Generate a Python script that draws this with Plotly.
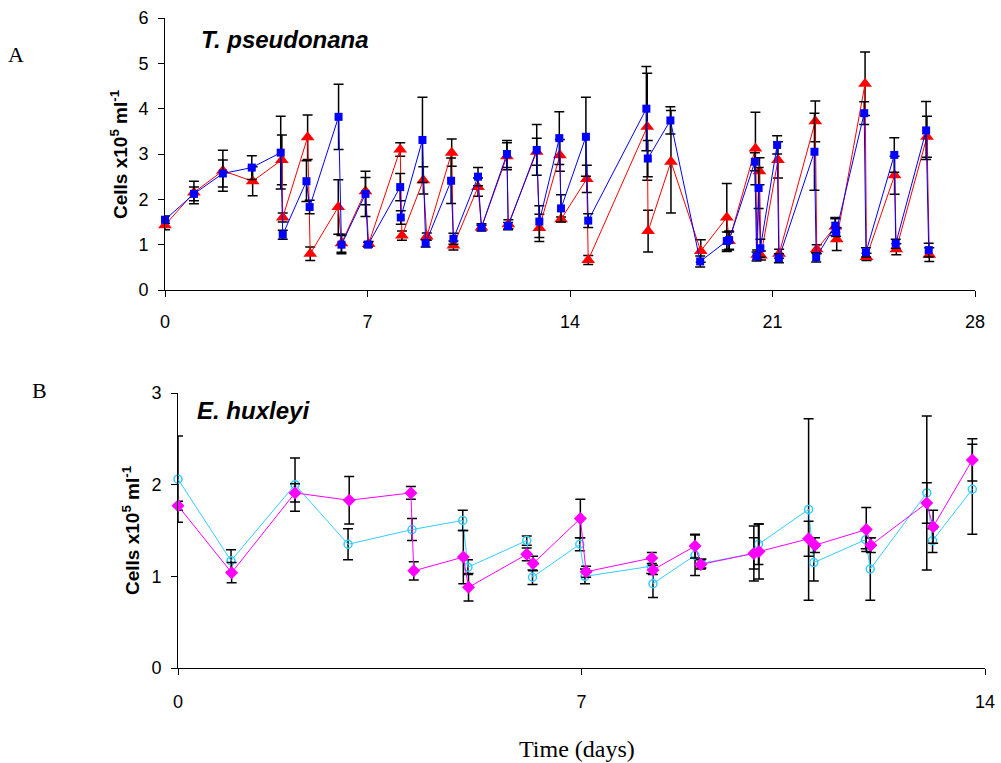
import plotly.graph_objects as go

# ---------------- Panel A : T. pseudonana ----------------
tp_red_day = [0, 1, 2, 3.03, 4.04, 4.07, 4.93, 5.02, 5.99, 6.1, 6.93, 7.04, 8.13, 8.19, 8.93, 9.05,
              9.91, 9.97, 10.82, 10.94, 11.82, 11.87, 12.85, 12.94, 13.65, 13.69, 14.58, 14.63,
              16.67, 16.7, 17.49, 18.52, 19.42, 19.5, 20.41, 20.47, 20.55, 20.6, 21.19, 21.23,
              22.48, 22.53, 23.17, 23.22, 24.2, 24.25, 25.22, 25.28, 26.34, 26.42]
tp_red_val = [1.43, 2.15, 2.63, 2.40, 2.87, 1.60, 3.37, 0.80, 1.83, 1.03, 2.18, 1.02, 3.10, 1.20, 2.42, 1.18,
              3.03, 0.98, 2.27, 1.38, 2.95, 1.45, 3.05, 1.37, 2.97, 1.56, 2.45, 0.66,
              3.60, 1.30, 2.83, 0.86, 1.60, 1.08, 3.12, 0.78, 2.62, 0.76, 2.87, 0.80,
              3.72, 0.90, 1.40, 1.12, 4.55, 0.73, 2.53, 0.90, 3.38, 0.78]
tp_red_err = [0.10, 0.25, 0.45, 0.32, 0.55, 0.10, 0.49, 0.15, 0.60, 0.20, 0.30, 0.05, 0.15, 0.10, 0.30, 0.08,
              0.30, 0.10, 0.20, 0.05, 0.30, 0.10, 0.30, 0.30, 0.35, 0.05, 0.30, 0.10,
              1.18, 0.46, 1.13, 0.25, 0.75, 0.20, 0.80, 0.10, 0.30, 0.10, 0.40, 0.10,
              0.45, 0.10, 0.20, 0.25, 0.70, 0.08, 0.42, 0.12, 0.45, 0.15]

tp_blue_day = [0, 1, 2, 3, 4.0, 4.07, 4.89, 5.0, 6.0, 6.1, 6.93, 7.02, 8.13, 8.15, 8.9, 9.01,
               9.89, 9.97, 10.82, 10.94, 11.82, 11.86, 12.85, 12.94, 13.63, 13.69, 14.55, 14.63,
               16.64, 16.69, 17.47, 18.5, 19.42, 19.5, 20.39, 20.45, 20.52, 20.58, 21.16, 21.22,
               22.45, 22.51, 23.17, 23.2, 24.17, 24.23, 25.21, 25.26, 26.31, 26.4]
tp_blue_val = [1.55, 2.12, 2.57, 2.70, 3.03, 1.22, 2.40, 1.83, 3.82, 1.00, 2.12, 1.00, 2.27, 1.60, 3.31, 1.03,
               2.41, 1.13, 2.50, 1.38, 3.00, 1.41, 3.09, 1.51, 3.35, 1.80, 3.38, 1.53,
               4.00, 2.90, 3.74, 0.63, 1.08, 1.10, 2.83, 0.74, 2.25, 0.92, 3.20, 0.70,
               3.05, 0.72, 1.42, 1.28, 3.90, 0.83, 2.98, 1.02, 3.52, 0.88]
tp_blue_err = [0.08, 0.15, 0.30, 0.26, 0.80, 0.10, 0.45, 0.15, 0.72, 0.20, 0.50, 0.05, 0.30, 0.15, 0.94, 0.08,
               0.50, 0.12, 0.20, 0.08, 0.30, 0.08, 0.56, 0.35, 0.58, 0.30, 0.87, 0.15,
               0.93, 0.40, 0.30, 0.12, 0.20, 0.20, 0.20, 0.10, 0.45, 0.20, 0.20, 0.10,
               0.85, 0.10, 0.15, 0.10, 0.25, 0.10, 0.38, 0.10, 0.64, 0.15]

# ---------------- Panel B : E. huxleyi ----------------
eh_cyan_day = [0, 0.92, 2.03, 2.95, 4.06, 4.94, 5.03, 6.05, 6.15, 6.97, 7.06, 8.21, 8.24, 8.97, 9.08,
               9.99, 10.07, 10.94, 11.03, 11.93, 12.01, 12.99, 13.09, 13.78]
eh_cyan_val = [2.06, 1.17, 2.00, 1.35, 1.51, 1.61, 1.10, 1.39, 0.99, 1.35, 1.00, 1.11, 0.92, 1.23, 1.14,
               1.25, 1.35, 1.73, 1.15, 1.40, 1.08, 1.91, 1.39, 1.95]
eh_cyan_err = [0.47, 0.12, 0.29, 0.17, 0.12, 0.11, 0.08, 0.05, 0.08, 0.07, 0.08, 0.08, 0.15, 0.22, 0.05,
               0.30, 0.22, 0.99, 0.20, 0.10, 0.34, 0.84, 0.13, 0.49]

eh_mag_day = [0, 0.93, 2.03, 2.97, 4.04, 4.09, 4.95, 5.04, 6.05, 6.16, 6.98, 7.08, 8.22, 8.24, 8.97, 9.07,
              9.99, 10.08, 10.94, 11.05, 11.94, 12.02, 12.99, 13.1, 13.78]
eh_mag_val = [1.77, 1.04, 1.91, 1.83, 1.91, 1.06, 1.21, 0.88, 1.24, 1.14, 1.63, 1.05, 1.20, 1.07, 1.33, 1.13,
              1.25, 1.27, 1.41, 1.34, 1.51, 1.34, 1.80, 1.54, 2.27]
eh_mag_err = [0.05, 0.11, 0.10, 0.26, 0.07, 0.10, 0.29, 0.15, 0.07, 0.08, 0.21, 0.06, 0.06, 0.05, 0.13, 0.05,
              0.17, 0.30, 0.19, 0.08, 0.24, 0.08, 0.22, 0.18, 0.23]

x_ticks_a = [0, 7, 14, 21, 28]
y_ticks_a = [0, 1, 2, 3, 4, 5, 6]
x_ticks_b = [0, 7, 14]
y_ticks_b = [0, 1, 2, 3]

W, H = 1001, 763
ARIAL = "Arial, Liberation Sans, sans-serif"
TIMES = "Times New Roman, Liberation Serif, serif"


def err(vals):
    return dict(type="data", array=vals, visible=True, color="black", thickness=1.5, width=5)


fig = go.Figure()
fig.add_trace(go.Scatter(x=tp_red_day, y=tp_red_val, mode="lines+markers", error_y=err(tp_red_err),
                         line=dict(color="#FF0000", width=1), cliponaxis=False,
                         marker=dict(symbol="triangle-up", size=12, color="#FF0000"),
                         xaxis="x", yaxis="y", showlegend=False))
fig.add_trace(go.Scatter(x=tp_blue_day, y=tp_blue_val, mode="lines+markers", error_y=err(tp_blue_err),
                         line=dict(color="#0000FF", width=1), cliponaxis=False,
                         marker=dict(symbol="square", size=8, color="#0000FF"),
                         xaxis="x", yaxis="y", showlegend=False))
fig.add_trace(go.Scatter(x=eh_cyan_day, y=eh_cyan_val, mode="lines+markers", error_y=err(eh_cyan_err),
                         line=dict(color="#33CCFF", width=1), cliponaxis=False,
                         marker=dict(symbol="circle-open", size=8, color="#33CCFF", line=dict(width=1.5)),
                         xaxis="x2", yaxis="y2", showlegend=False))
fig.add_trace(go.Scatter(x=eh_mag_day, y=eh_mag_val, mode="lines+markers", error_y=err(eh_mag_err),
                         line=dict(color="#FF00FF", width=1), cliponaxis=False,
                         marker=dict(symbol="diamond", size=10, color="#FF00FF"),
                         xaxis="x2", yaxis="y2", showlegend=False))

axis_common = dict(showgrid=False, zeroline=False, showline=True, linecolor="black", linewidth=1,
                   ticks="outside", ticklen=6, tickcolor="black", tickwidth=1,
                   tickfont=dict(family=ARIAL, size=18, color="black"), automargin=False)

fig.update_layout(
    width=W, height=H, margin=dict(l=0, r=0, t=0, b=0),
    paper_bgcolor="white", plot_bgcolor="white",
    xaxis=dict(domain=[165 / W, 975 / W], range=[0, 28], tickvals=x_ticks_a, anchor="y",
               ticklabelstandoff=9, **axis_common),
    yaxis=dict(domain=[1 - 290 / H, 1 - 18 / H], range=[0, 6], tickvals=y_ticks_a, anchor="x",
               ticklabelstandoff=6, **axis_common),
    xaxis2=dict(domain=[178 / W, 985 / W], range=[0, 14], tickvals=x_ticks_b, anchor="y2",
                ticklabelstandoff=11, **axis_common),
    yaxis2=dict(domain=[1 - 668 / H, 1 - 393 / H], range=[0, 3], tickvals=y_ticks_b, anchor="x2",
                ticklabelstandoff=6, **axis_common),
)


def ann(text, px, py, size, family, angle=0):
    fig.add_annotation(text=text, x=px / W, y=1 - py / H, xref="paper", yref="paper",
                       showarrow=False, textangle=angle, xanchor="center", yanchor="middle",
                       font=dict(family=family, size=size, color="black"))


ann("A", 16, 55, 22, TIMES)
ann("B", 39, 390, 22, TIMES)
ann("<b><i>T. pseudonana</i></b>", 285, 39, 24, ARIAL)
ann("<b><i>E. huxleyi</i></b>", 253, 410, 24, ARIAL)
ann("<b>Cells x10<sup>5</sup> ml<sup>-1</sup></b>", 119, 154, 19, ARIAL, -90)
ann("<b>Cells x10<sup>5</sup> ml<sup>-1</sup></b>", 131, 530, 19, ARIAL, -90)
ann("Time (days)", 577, 749, 24, TIMES)

fig.write_html("out.html")
